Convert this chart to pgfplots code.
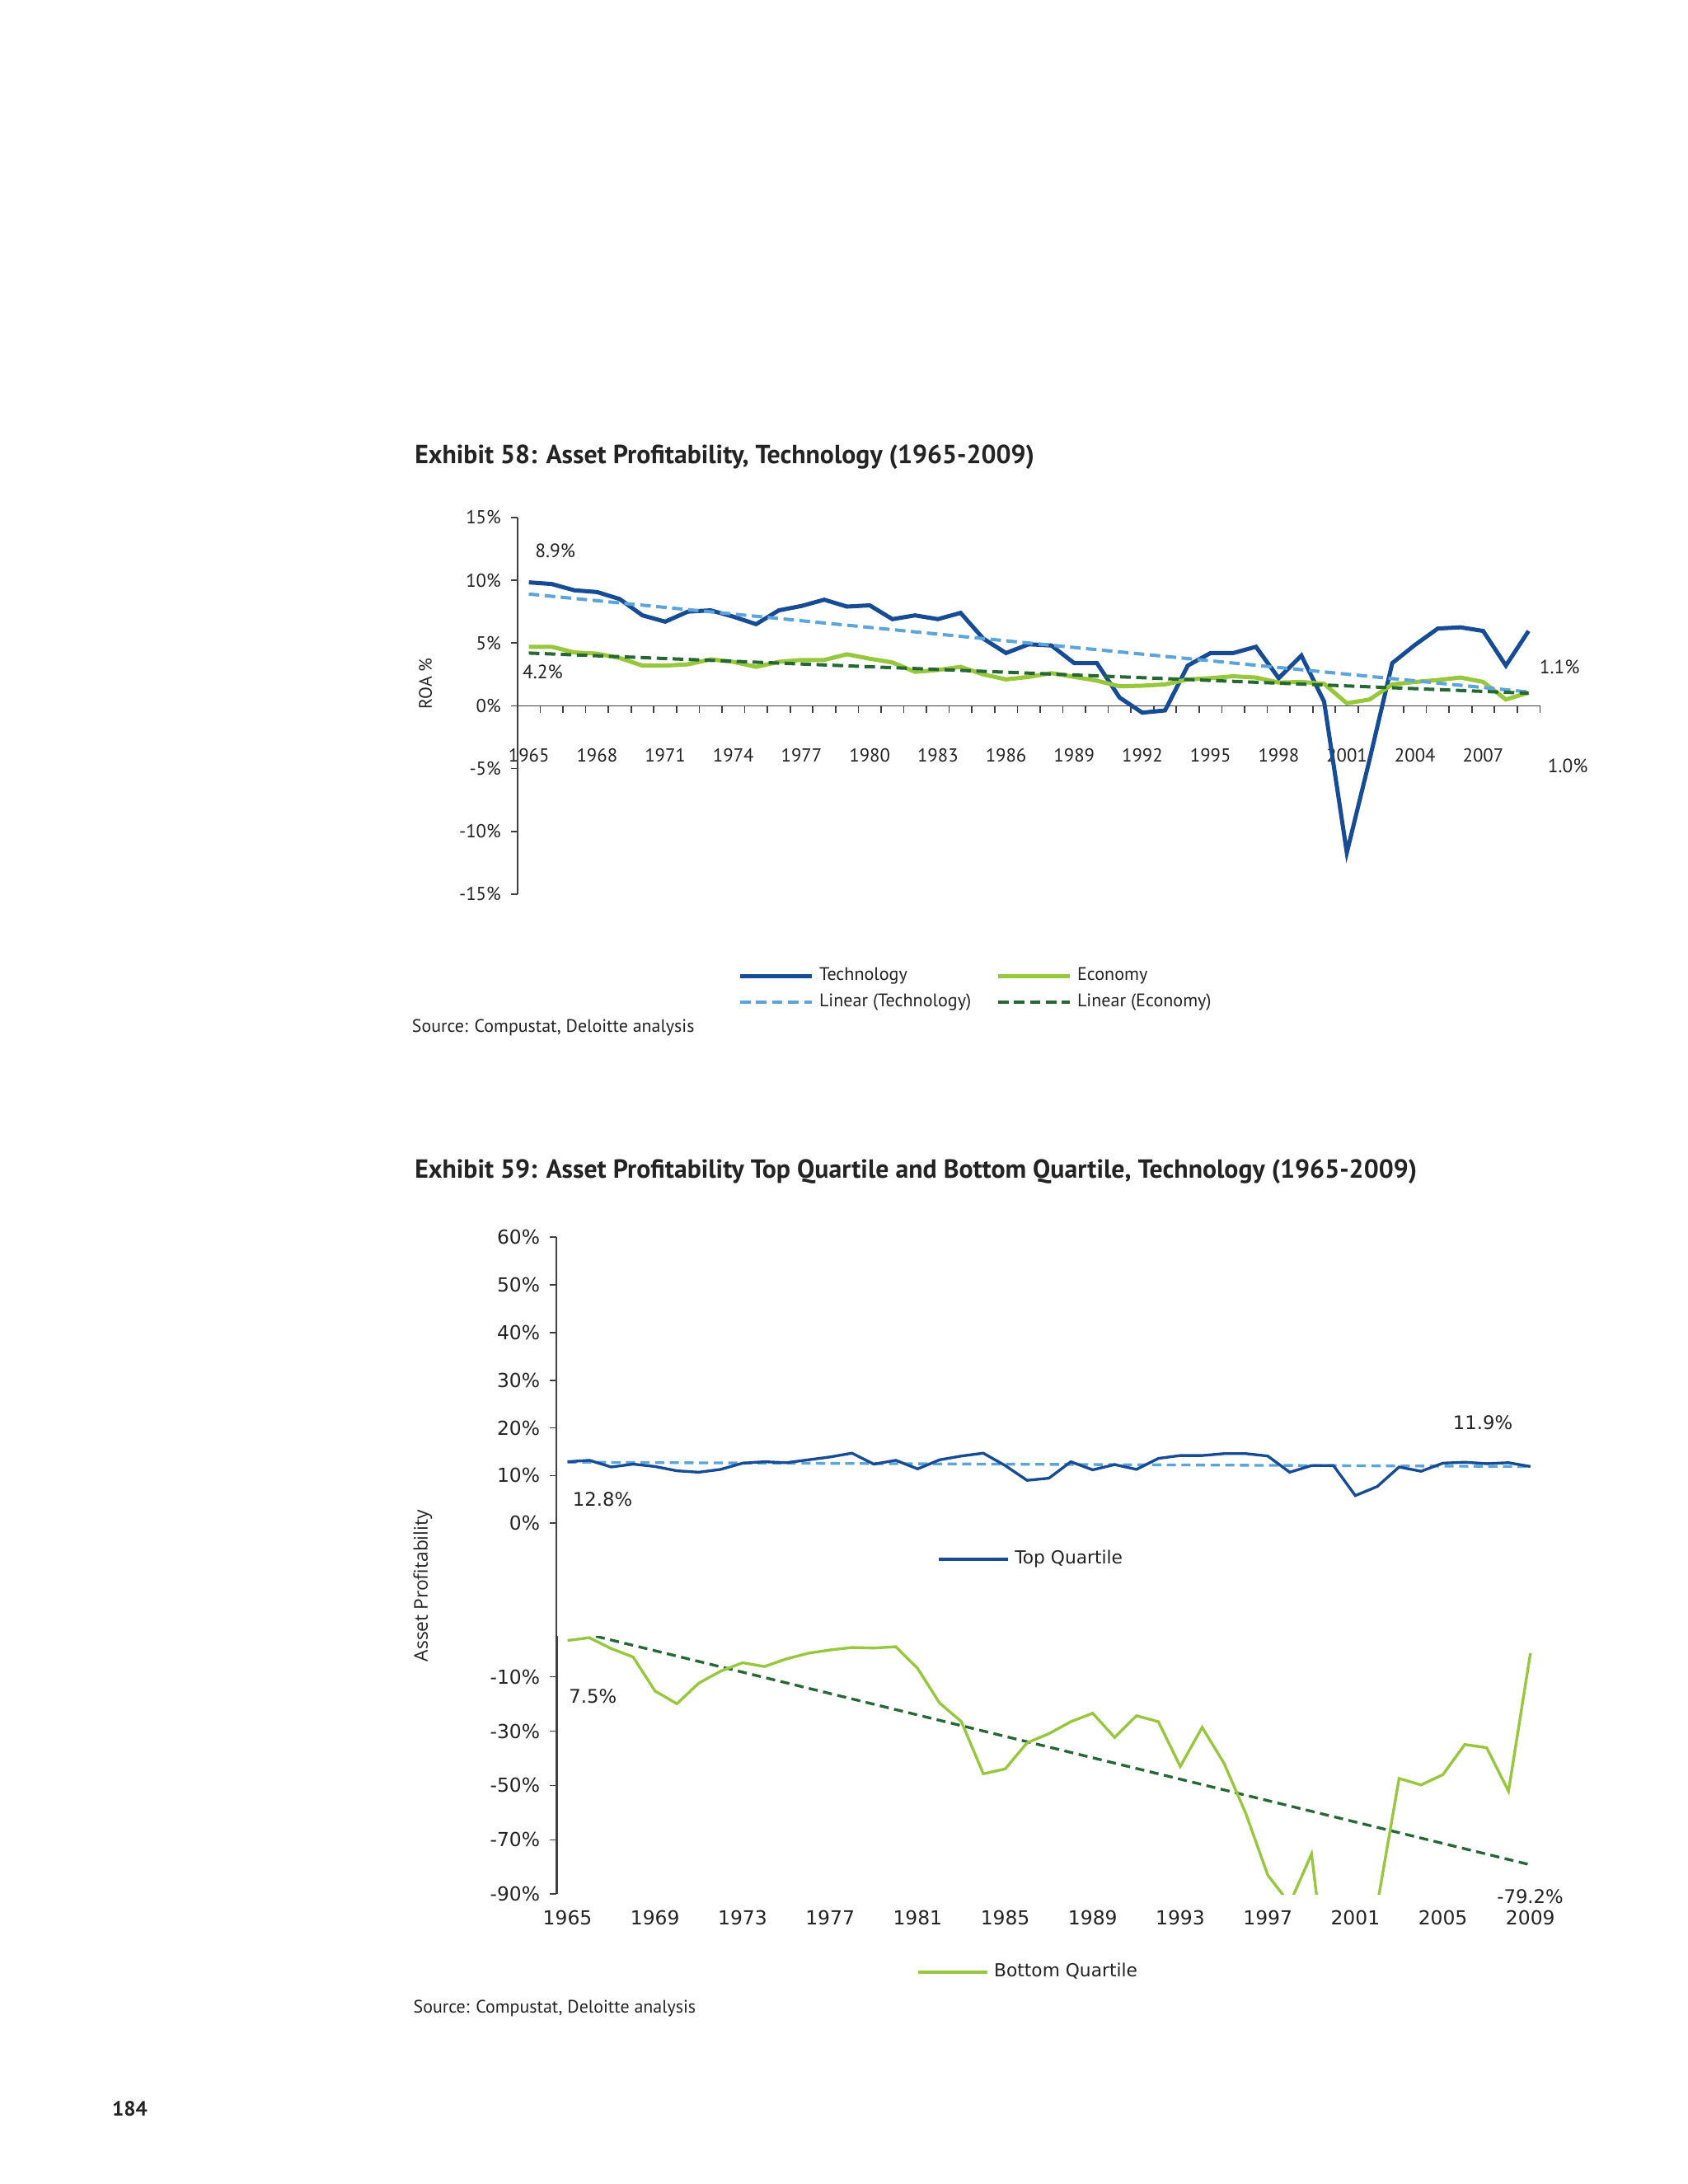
\documentclass[border=0pt]{standalone}
\usepackage{fontspec}
\usepackage{pgfplots}
\pgfplotsset{compat=1.18}
\setmainfont{Open Sans}
\newfontfamily\ptsans{PT Sans}
\newfontfamily\dejavu{DejaVu Sans}
\definecolor{techblue}{RGB}{22,75,150}
\definecolor{lightblue}{RGB}{92,164,220}
\definecolor{econgreen}{RGB}{151,200,60}
\definecolor{darkgreen}{RGB}{38,104,52}
\definecolor{axisgray}{RGB}{64,64,64}
\definecolor{txt}{RGB}{35,35,35}

\begin{document}
\begin{tikzpicture}
\path[fill=white] (0pt,0pt) rectangle (612pt,-792pt);

% ---------------- Exhibit 58 ----------------
\begin{axis}[
    at={(187.65pt,-324.22pt)}, anchor=south west,
    scale only axis, width=370.75pt, height=136.57pt,
    xmin=1964.5, xmax=2009.5, ymin=-15, ymax=15,
    axis x line*=middle, axis y line*=left,
    axis line style={axisgray, line width=0.5pt},
    hide obscured x ticks=false, hide obscured y ticks=false,
    tick align=outside,
    major tick length=2.5pt, minor tick length=2.5pt,
    tick style={axisgray, line width=0.5pt},
    xtick={1965,1968,...,2007},
    xticklabels={1965,1968,1971,1974,1977,1980,1983,1986,1989,1992,1995,1998,2001,2004,2007},
    major x tick style={draw=none},
    minor xtick={1964.5,1965.5,...,2009.6},
    xticklabel style={yshift=-9.5pt},
    ytick={-15,-10,-5,0,5,10,15},
    yticklabels={-15\%,-10\%,-5\%,0\%,5\%,10\%,15\%},
    ticklabel style={font=\ptsans\fontsize{6.8}{8}\selectfont, text=txt},
    legend columns=2, legend cell align=left,
    legend style={at={(0.207,-0.165)}, anchor=north west, draw=none, fill=none,
        font=\ptsans\fontsize{6.6}{7}\selectfont, text=txt,
        /tikz/every even column/.append style={column sep=7pt}, row sep=-0.8pt},
    legend image code/.code={\draw[#1] (0pt,0pt) -- (26pt,0pt);},
]
\addplot[techblue, line width=1.5pt] coordinates {
(1965,9.83) (1966,9.7) (1967,9.2) (1968,9.06) (1969,8.5) (1970,7.2) (1971,6.7)
(1972,7.5) (1973,7.6) (1974,7.1) (1975,6.5) (1976,7.6) (1977,7.95) (1978,8.45)
(1979,7.9) (1980,8.0) (1981,6.9) (1982,7.2) (1983,6.9) (1984,7.4) (1985,5.35)
(1986,4.2) (1987,4.9) (1988,4.8) (1989,3.4) (1990,3.4) (1991,0.65) (1992,-0.55)
(1993,-0.37) (1994,3.2) (1995,4.2) (1996,4.2) (1997,4.7) (1998,2.2) (1999,4.0)
(2000,0.33) (2001,-11.7) (2002,-4.3) (2003,3.4) (2004,4.85) (2005,6.15) (2006,6.25)
(2007,5.96) (2008,3.2) (2009,5.96)
};
\addlegendentry{Technology}
\addplot[econgreen, line width=1.5pt] coordinates {
(1965,4.7) (1966,4.7) (1967,4.25) (1968,4.15) (1969,3.8) (1970,3.2) (1971,3.2)
(1972,3.3) (1973,3.7) (1974,3.5) (1975,3.1) (1976,3.5) (1977,3.65) (1978,3.65)
(1979,4.1) (1980,3.75) (1981,3.45) (1982,2.7) (1983,2.85) (1984,3.1) (1985,2.5)
(1986,2.1) (1987,2.3) (1988,2.6) (1989,2.3) (1990,2.0) (1991,1.55) (1992,1.6)
(1993,1.7) (1994,2.1) (1995,2.2) (1996,2.35) (1997,2.25) (1998,1.85) (1999,1.9)
(2000,1.75) (2001,0.2) (2002,0.5) (2003,1.7) (2004,1.9) (2005,2.05) (2006,2.25)
(2007,1.9) (2008,0.5) (2009,1.05)
};
\addlegendentry{Economy}
\addplot[lightblue, line width=1.2pt, dash pattern=on 3.8pt off 2pt] coordinates {(1965,8.9) (2009,1.1)};
\addlegendentry{Linear (Technology)}
\addplot[darkgreen, line width=1.2pt, dash pattern=on 3.8pt off 2pt] coordinates {(1965,4.2) (2009,1.0)};
\addlegendentry{Linear (Economy)}
\end{axis}

% ---------------- Exhibit 59: top quartile panel ----------------
\begin{axis}[
    at={(201.81pt,-686.88pt)}, anchor=south west,
    scale only axis, width=357.09pt, height=238.23pt,
    xmin=1964.5, xmax=2009.5, ymin=-77.8, ymax=60,
    axis x line=none, axis y line*=left,
    axis line style={axisgray, line width=0.5pt},
    tick align=outside, major tick length=2.5pt,
    tick style={axisgray, line width=0.5pt},
    ytick={0,10,20,30,40,50,60},
    yticklabels={0\%,10\%,20\%,30\%,40\%,50\%,60\%},
    ticklabel style={font=\dejavu\fontsize{7}{8}\selectfont, text=txt},
    legend style={at={(0.378,0.5096)}, anchor=west, draw=none, fill=none,
        font=\dejavu\fontsize{6.5}{8}\selectfont, text=txt},
    legend image code/.code={\draw[#1] (0pt,0pt) -- (25pt,0pt);},
]
\addplot[lightblue, line width=1pt, dash pattern=on 3.3pt off 2pt, forget plot] coordinates {(1965,12.8) (2009,11.9)};
\addplot[techblue, line width=1pt] coordinates {
(1965,12.9) (1966,13.2) (1967,11.8) (1968,12.4) (1969,11.9) (1970,11.0) (1971,10.7)
(1972,11.3) (1973,12.6) (1974,12.9) (1975,12.7) (1976,13.3) (1977,13.9) (1978,14.7)
(1979,12.4) (1980,13.2) (1981,11.4) (1982,13.3) (1983,14.1) (1984,14.7) (1985,12.1)
(1986,9.0) (1987,9.45) (1988,12.9) (1989,11.2) (1990,12.3) (1991,11.3) (1992,13.6)
(1993,14.2) (1994,14.2) (1995,14.6) (1996,14.6) (1997,14.1) (1998,10.7) (1999,12.1)
(2000,12.1) (2001,5.8) (2002,7.7) (2003,11.8) (2004,10.9) (2005,12.6) (2006,12.8)
(2007,12.5) (2008,12.7) (2009,11.9)
};
\addlegendentry{Top Quartile}
\end{axis}

% ---------------- Exhibit 59: bottom quartile panel ----------------
\begin{axis}[
    at={(201.81pt,-686.88pt)}, anchor=south west,
    scale only axis, width=357.09pt, height=93.57pt,
    xmin=1964.5, xmax=2009.5, ymin=-90, ymax=5,
    axis x line*=bottom, axis y line*=left,
    x axis line style={draw=none},
    y axis line style={axisgray, line width=1pt},
    tick align=outside, major tick length=2.5pt,
    xtick={1965,1969,...,2009},
    xticklabels={1965,1969,1973,1977,1981,1985,1989,1993,1997,2001,2005,2009},
    major x tick style={draw=none},
    ytick style={axisgray, line width=0.5pt},
    ytick={-90,-70,-50,-30,-10},
    yticklabels={-90\%,-70\%,-50\%,-30\%,-10\%},
    ticklabel style={font=\dejavu\fontsize{7}{8}\selectfont, text=txt},
    legend style={at={(0.357,-0.303)}, anchor=west, draw=none, fill=none,
        font=\dejavu\fontsize{6.5}{8}\selectfont, text=txt},
    legend image code/.code={\draw[#1] (0pt,0pt) -- (25pt,0pt);},
]
\addplot[darkgreen, line width=1pt, dash pattern=on 3.3pt off 2pt, forget plot] coordinates {(1965,7.5) (2009,-79.2)};
\addplot[econgreen, line width=1pt] coordinates {
(1965,3.4) (1966,4.4) (1967,0.4) (1968,-2.7) (1969,-15.2) (1970,-19.9) (1971,-12.3)
(1972,-7.9) (1973,-4.8) (1974,-6.2) (1975,-3.4) (1976,-1.3) (1977,-0.1) (1978,0.8)
(1979,0.6) (1980,1.1) (1981,-6.9) (1982,-19.6) (1983,-26.5) (1984,-45.7) (1985,-43.9)
(1986,-34.3) (1987,-30.9) (1988,-26.5) (1989,-23.4) (1990,-32.3) (1991,-24.3) (1992,-26.5)
(1993,-43.0) (1994,-28.6) (1995,-41.8) (1996,-60.4) (1997,-83.0) (1998,-93.5) (1999,-75.2)
(2000,-142) (2001,-150) (2002,-94) (2003,-47.4) (2004,-49.8) (2005,-46.0) (2006,-34.9)
(2007,-36.1) (2008,-52.1) (2009,-1.3)
};
\addlegendentry{Bottom Quartile}
\end{axis}

% ---------------- page text ----------------
\begin{scope}[x=0.5058pt, y=-0.5058pt, text=txt]
\node[anchor=west, inner sep=0pt, font=\ptsans\bfseries\fontsize{9.5}{11}\selectfont] at (297,328)
  {Exhibit 58: Asset Profitability, Technology (1965-2009)};
\node[rotate=90, inner sep=0pt, font=\ptsans\fontsize{6.5}{8}\selectfont] at (305,490) {ROA \%};
\node[inner sep=0pt, font=\ptsans\fontsize{7}{8}\selectfont] at (398,395) {8.9\%};
\node[inner sep=0pt, font=\ptsans\fontsize{7}{8}\selectfont] at (389,482) {4.2\%};
\node[inner sep=0pt, font=\ptsans\fontsize{7}{8}\selectfont] at (1118,478) {1.1\%};
\node[inner sep=0pt, font=\ptsans\fontsize{7}{8}\selectfont] at (1124,549) {1.0\%};
\node[anchor=west, inner sep=0pt, font=\ptsans\fontsize{6.55}{8}\selectfont] at (295,737)
  {Source: Compustat, Deloitte analysis};

\node[anchor=west, inner sep=0pt, font=\ptsans\bfseries\fontsize{9.5}{11}\selectfont] at (297,840)
  {Exhibit 59: Asset Profitability Top Quartile and Bottom Quartile, Technology (1965-2009)};
\node[rotate=90, inner sep=0pt, font=\fontsize{6.8}{8}\selectfont] at (303,1137) {Asset Profitability};
\node[inner sep=0pt, font=\dejavu\fontsize{6.8}{8}\selectfont] at (432,1075) {12.8\%};
\node[inner sep=0pt, font=\dejavu\fontsize{6.8}{8}\selectfont] at (1063,1020) {11.9\%};
\node[inner sep=0pt, font=\dejavu\fontsize{6.8}{8}\selectfont] at (425,1216) {7.5\%};
\node[inner sep=0pt, font=\dejavu\fontsize{6.8}{8}\selectfont] at (1097,1360) {-79.2\%};
\node[anchor=west, inner sep=0pt, font=\ptsans\fontsize{6.55}{8}\selectfont] at (296,1440)
  {Source: Compustat, Deloitte analysis};
\node[inner sep=0pt, font=\ptsans\bfseries\fontsize{7.5}{9}\selectfont] at (93,1512) {184};
\end{scope}
\end{tikzpicture}
\end{document}
